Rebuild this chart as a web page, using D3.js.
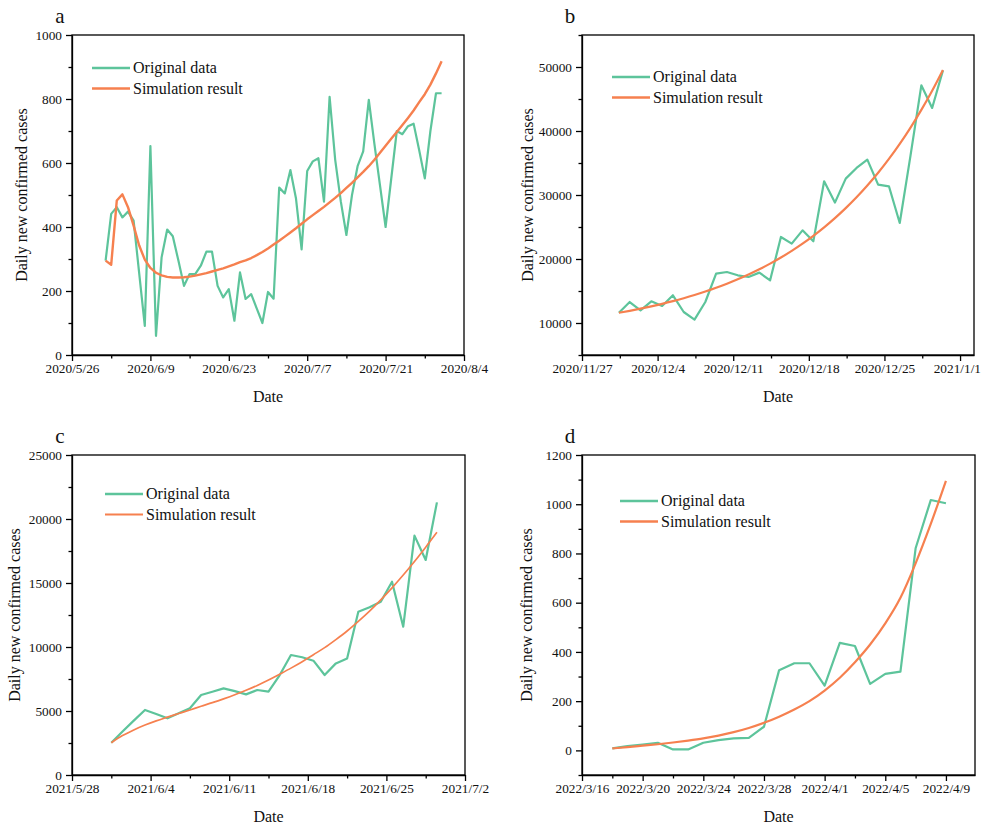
<!DOCTYPE html>
<html>
<head>
<meta charset="utf-8">
<script src="https://cdn.jsdelivr.net/npm/d3@7"></script>
<style>
  body { margin: 0; background: #fff; }
  .axis path, .axis line { stroke: #000; stroke-width: 1.3; }
</style>
</head>
<body>
<svg width="982" height="827"></svg>
<script>
// daily new confirmed cases, four waves, original vs simulation

var green = '#5dc49b',
    orange = '#f6804f',
    serif = "'Liberation Serif'";

// panel a  2020/6/1 - 2020/7/31
var aStart = '2020/6/1', aEnd = '2020/7/31';
var aOriginal = [295, 441, 462, 430, 448, 420, 255, 91, 653, 60,
  305, 392, 371, 295, 216, 253, 253, 279, 323, 323,
  216, 180, 206, 107, 258, 175, 190, 145, 100, 197,
  176, 523, 505, 578, 489, 330, 575, 605, 615, 479,
  807, 610, 480, 375, 500, 590, 636, 797, 660, 530,
  400, 550, 700, 690, 715, 723, 640, 552, 700, 818, 818];
var aSimulation = [295, 282, 483, 502, 462, 404, 342, 298, 272, 257,
  249, 244, 242, 242, 243, 245, 248, 252, 256, 261,
  266, 271, 277, 283, 290, 296, 303, 312, 322, 333,
  345, 357, 370, 383, 396, 410, 424, 437, 450, 463,
  477, 491, 506, 522, 538, 555, 572, 590, 610, 632,
  654, 676, 697, 719, 741, 764, 790, 815, 845, 880, 918];

// panel b  2020/11/30 - 2020/12/30
var bStart = '2020/11/30', bEnd = '2020/12/30';
var bOriginal = [11600, 13280, 11980, 13390, 12660, 14330, 11720, 10530, 13280, 17720,
  17970, 17450, 17190, 17870, 16670, 23440, 22400, 24480, 22760, 32140,
  28810, 32560, 34220, 35530, 31620, 31360, 25630, 36200, 47140, 43600, 49480];
var bSimulation = [11600, 11906, 12238, 12598, 12988, 13412, 13872, 14370, 14911, 15498,
  16135, 16826, 17576, 18390, 19272, 20230, 21268, 22395, 23618, 24944,
  26384, 27945, 29640, 31478, 33472, 35635, 37983, 40530, 43293, 46291, 49543];

// panel c  2021/5/31 - 2021/6/29
var cStart = '2021/5/31', cEnd = '2021/6/29';
var cOriginal = [2520, 3400, 4250, 5080, 4770, 4430, 4820, 5210, 6250, 6500,
  6770, 6550, 6300, 6640, 6510, 7810, 9375, 9200, 8930, 7810,
  8720, 9110, 12760, 13100, 13540, 15100, 11590, 18700, 16800, 21300];
var cSimulation = [2520, 3080, 3520, 3900, 4230, 4520, 4800, 5080, 5370, 5650,
  5950, 6270, 6620, 7000, 7420, 7880, 8350, 8850, 9400, 9950,
  10580, 11250, 12000, 12800, 13680, 14620, 15620, 16680, 17800, 18960];

// panel d  2022/3/18 - 2022/4/9
var dStart = '2022/3/18', dEnd = '2022/4/9';
var dOriginal = [8, 17, 24, 31, 4, 4, 31, 42, 49, 51,
  96, 326, 354, 354, 263, 437, 424, 270, 311, 320,
  821, 1017, 1004];
var dSimulation = [8, 13, 19, 25, 32, 40, 49, 60, 74, 91,
  112, 137, 166, 200, 243, 295, 358, 430, 516, 620,
  760, 920, 1095];

var legendLabels = ['Original data', 'Simulation result'];

var parse = d3.timeParse('%Y/%m/%d');
var fmt = d3.timeFormat('%Y/%-m/%-d');

function days(start, end) {
  return d3.timeDay.range(parse(start), d3.timeDay.offset(parse(end), 1));
}

var svg = d3.select('svg');

var panels = [
  { letter: 'a', left: 72, top: 35, width: 392, height: 320,
    xFrom: '2020/5/26', xTo: new Date(2020, 7, 4), majorDays: 14, minorHours: 168, shift: 0,
    yDomain: [0, 1000], yMajor: d3.range(0, 1001, 200), yMinor: d3.range(100, 1000, 200),
    dates: days(aStart, aEnd), original: aOriginal, simulation: aSimulation,
    titleX: 22, legend: [92, 68], simWidth: 2.4, simCurve: d3.curveLinear },
  { letter: 'b', left: 582, top: 35, width: 392, height: 320,
    xFrom: '2020/11/27', xTo: new Date(2021, 0, 2, 7), majorDays: 7, minorHours: 84, shift: 10,
    yDomain: [5000, 55000], yMajor: d3.range(10000, 50001, 10000), yMinor: d3.range(5000, 55001, 10000),
    dates: days(bStart, bEnd), original: bOriginal, simulation: bSimulation,
    titleX: 528, legend: [612, 77], simWidth: 2.2, simCurve: d3.curveMonotoneX },
  { letter: 'c', left: 72, top: 455, width: 393, height: 320,
    xFrom: '2021/5/28', xTo: new Date(2021, 6, 2), majorDays: 7, minorHours: 84, shift: 12,
    yDomain: [0, 25000], yMajor: d3.range(0, 25001, 5000), yMinor: d3.range(2500, 25000, 5000),
    dates: days(cStart, cEnd), original: cOriginal, simulation: cSimulation,
    titleX: 15, legend: [105, 494], simWidth: 1.7, simCurve: d3.curveMonotoneX },
  { letter: 'd', left: 582, top: 455, width: 393, height: 320,
    xFrom: '2022/3/16', xTo: new Date(2022, 3, 10, 22), majorDays: 4, minorHours: 48, shift: 0,
    yDomain: [-100, 1200], yMajor: d3.range(0, 1201, 200), yMinor: d3.range(-100, 1200, 200),
    dates: days(dStart, dEnd), original: dOriginal, simulation: dSimulation,
    titleX: 527, legend: [620, 501], simWidth: 2.2, simCurve: d3.curveMonotoneX }
];

panels.forEach(drawPanel);

function drawPanel(p) {
  var g = svg.append('g')
    .attr('transform', 'translate(' + p.left + ',' + p.top + ')');

  var x0 = parse(p.xFrom);
  var x = d3.scaleTime().domain([x0, p.xTo]).range([0, p.width]);
  var y = d3.scaleLinear().domain(p.yDomain).range([p.height, 0]);

  var major = [], minor = [];
  for (var t = x0; t <= p.xTo; t = d3.timeDay.offset(t, p.majorDays)) major.push(t);
  for (var h = p.minorHours; d3.timeHour.offset(x0, h) <= p.xTo; h += 2 * p.minorHours) {
    minor.push(d3.timeHour.offset(x0, h));
  }

  // minor ticks first, majors on top
  g.append('g')
    .attr('class', 'axis')
    .attr('transform', 'translate(0,' + p.height + ')')
    .call(d3.axisBottom(x).tickValues(minor).tickSize(3.5).tickSizeOuter(0).tickFormat(''))
    .select('.domain').remove();

  var xAxisG = g.append('g')
    .attr('class', 'axis')
    .attr('transform', 'translate(0,' + p.height + ')')
    .call(d3.axisBottom(x).tickValues(major).tickSize(6).tickSizeOuter(0).tickPadding(3).tickFormat(fmt));

  g.append('g')
    .attr('class', 'axis')
    .call(d3.axisLeft(y).tickValues(p.yMinor).tickSize(3.5).tickSizeOuter(0).tickFormat(''))
    .select('.domain').remove();

  g.append('g')
    .attr('class', 'axis')
    .call(d3.axisLeft(y).tickValues(p.yMajor).tickSize(6).tickSizeOuter(0).tickPadding(4).tickFormat(d3.format('d')));

  g.selectAll('.axis text')
    .style('font-family', serif)
    .style('font-size', '13.3px')
    .style('fill', '#111');

  // keep the last date label inside the picture
  xAxisG.selectAll('text').each(function() {
    var box = this.getBoundingClientRect();
    if (box.right > 981) d3.select(this).attr('dx', (981 - box.right) + 'px');
  });

  g.append('rect')
    .attr('width', p.width)
    .attr('height', p.height)
    .attr('fill', 'none')
    .attr('stroke', '#000')
    .attr('stroke-width', 1.3);

  var px = function(d, i) { return x(d3.timeHour.offset(p.dates[i], p.shift)); };

  var lineOrig = d3.line()
    .x(function(d, i) { return px(d, i); })
    .y(function(d) { return y(d); });

  var lineSim = d3.line()
    .x(function(d, i) { return px(d, i); })
    .y(function(d) { return y(d); })
    .curve(p.simCurve);

  g.append('path')
    .datum(p.original)
    .attr('fill', 'none')
    .attr('stroke', green)
    .attr('stroke-width', 2.2)
    .attr('stroke-linejoin', 'round')
    .attr('d', lineOrig);

  g.append('path')
    .datum(p.simulation)
    .attr('fill', 'none')
    .attr('stroke', orange)
    .attr('stroke-width', p.simWidth)
    .attr('stroke-linejoin', 'round')
    .attr('d', lineSim);

  // legend
  var colors = [green, orange];
  legendLabels.forEach(function(label, i) {
    var ly = p.legend[1] + i * 20.5;
    svg.append('line')
      .attr('x1', p.legend[0]).attr('x2', p.legend[0] + 38)
      .attr('y1', ly).attr('y2', ly)
      .attr('stroke', colors[i])
      .attr('stroke-width', i === 1 ? p.simWidth + 0.3 : 2.5);
    svg.append('text')
      .attr('x', p.legend[0] + 41)
      .attr('y', ly)
      .attr('dy', '0.33em')
      .style('font-family', serif)
      .style('font-size', '16px')
      .style('fill', '#111')
      .text(label);
  });

  // titles
  svg.append('text')
    .attr('transform', 'translate(' + p.titleX + ',' + (p.top + p.height / 2) + ') rotate(-90)')
    .attr('text-anchor', 'middle')
    .attr('dy', '0.33em')
    .style('font-family', serif)
    .style('font-size', '16px')
    .style('fill', '#111')
    .text('Daily new confirmed cases');

  svg.append('text')
    .attr('x', p.left + p.width / 2)
    .attr('y', p.top + p.height + 47)
    .attr('text-anchor', 'middle')
    .style('font-family', serif)
    .style('font-size', '16px')
    .style('fill', '#111')
    .text('Date');

  svg.append('text')
    .attr('x', p.left - 12)
    .attr('y', p.top - 12)
    .attr('text-anchor', 'middle')
    .style('font-family', serif)
    .style('font-size', '21px')
    .style('fill', '#111')
    .text(p.letter);
}
</script>
</body>
</html>
